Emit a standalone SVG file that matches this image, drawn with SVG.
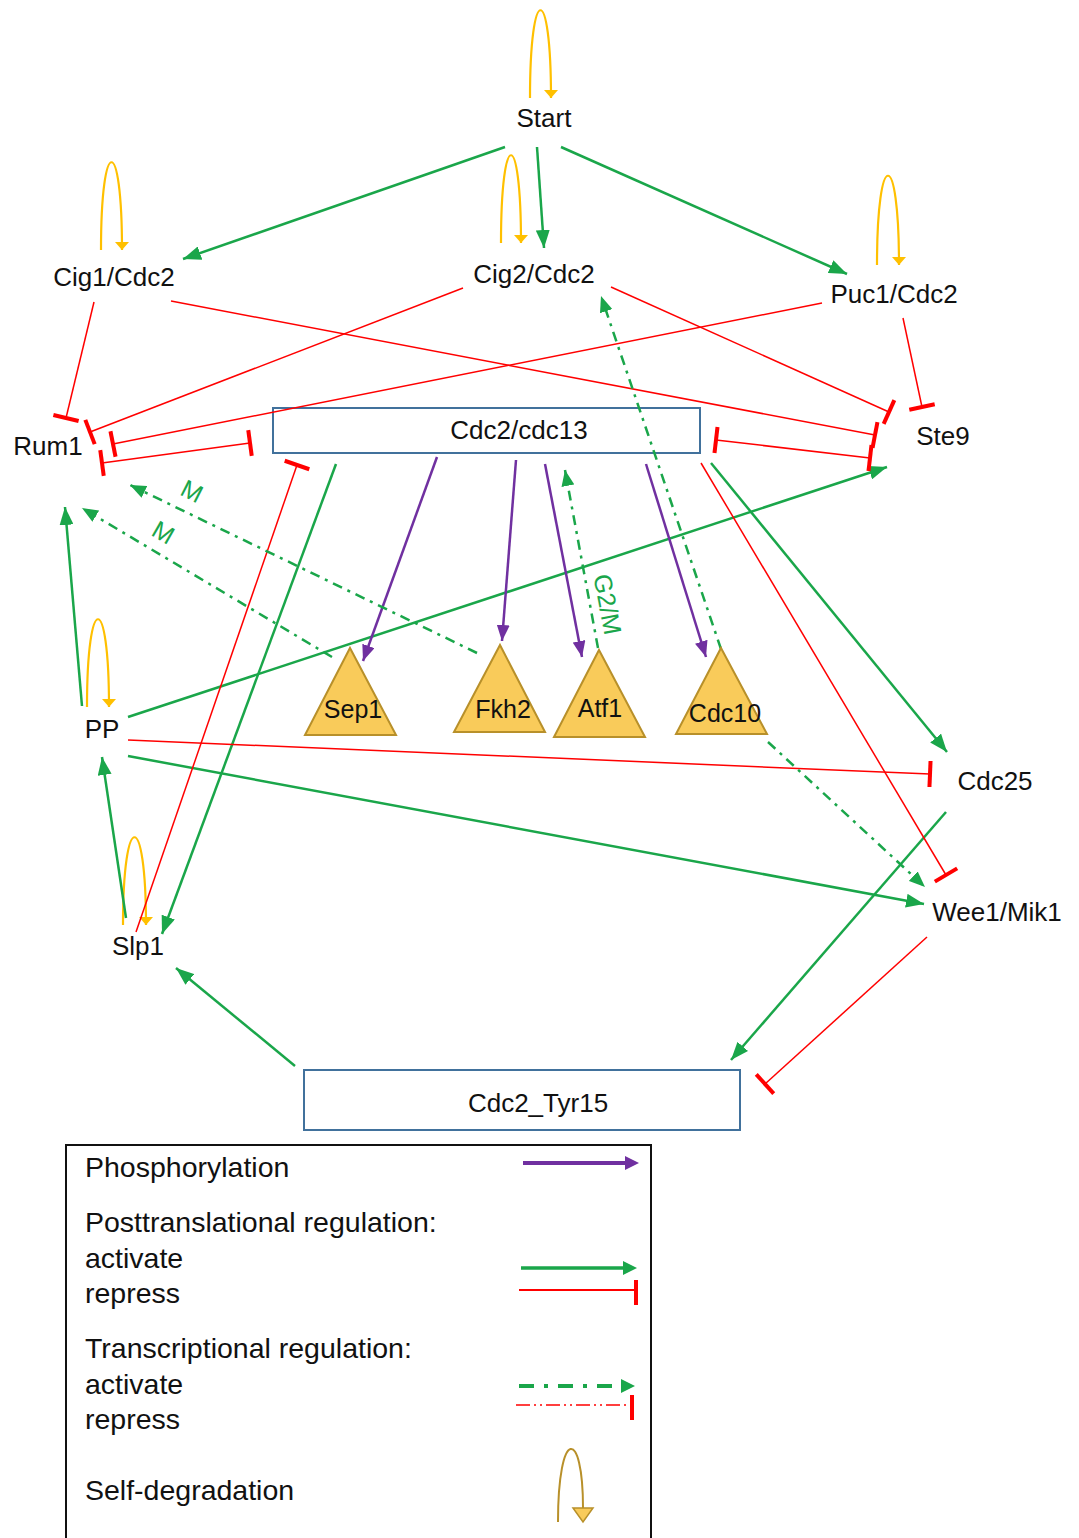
<svg xmlns="http://www.w3.org/2000/svg" width="1079" height="1538" viewBox="0 0 1079 1538">
<style>
.lbl{font-family:"Liberation Sans",Arial,sans-serif;font-size:26px;fill:#111}
.tl{font-family:"Liberation Sans",Arial,sans-serif;font-size:25px;fill:#111;text-anchor:middle}
.lg{font-family:"Liberation Sans",Arial,sans-serif;font-size:28.5px;fill:#111}
.ml{font-family:"Liberation Sans",Arial,sans-serif;font-size:25px;fill:#1AA64A;text-anchor:middle}
.g{stroke:#1AA64A;stroke-width:2.5;fill:none;marker-end:url(#aG)}
.gd{stroke:#1AA64A;stroke-width:2.5;fill:none;stroke-dasharray:10 6 3 6;marker-end:url(#aGd)}
.r{stroke:#FF0000;stroke-width:1.5;fill:none;marker-end:url(#bR)}
.r2{stroke:#FF0000;stroke-width:1.5;fill:none;marker-end:url(#bR);marker-start:url(#bR)}
.p{stroke:#7030A0;stroke-width:2.5;fill:none;marker-end:url(#aP)}
.o{stroke:#FFC000;stroke-width:2.2;fill:none;marker-end:url(#aO)}
.box{fill:none;stroke:#41719C;stroke-width:2}
.tri{fill:#F9CB5A;stroke:#B8902A;stroke-width:2}
</style>
<defs>
<marker id="aG" markerUnits="userSpaceOnUse" markerWidth="18" markerHeight="14" viewBox="0 0 18 14" refX="18" refY="7" orient="auto"><path d="M0,0 L18,7 L0,14 z" fill="#1AA64A"/></marker>
<marker id="aGd" markerUnits="userSpaceOnUse" markerWidth="16" markerHeight="13" viewBox="0 0 16 13" refX="16" refY="6.5" orient="auto"><path d="M0,0 L16,6.5 L0,13 z" fill="#1AA64A"/></marker>
<marker id="aP" markerUnits="userSpaceOnUse" markerWidth="16" markerHeight="13" viewBox="0 0 16 13" refX="16" refY="6.5" orient="auto"><path d="M0,0 L16,6.5 L0,13 z" fill="#7030A0"/></marker>
<marker id="aO" markerUnits="userSpaceOnUse" markerWidth="8" markerHeight="14" viewBox="0 0 8 14" refX="8" refY="7" orient="auto"><path d="M0,0 L8,7 L0,14 z" fill="#FFC000"/></marker>
<marker id="bR" markerUnits="userSpaceOnUse" markerWidth="6" markerHeight="30" viewBox="0 0 6 30" refX="3" refY="15" orient="auto"><rect x="1" y="2" width="4" height="26" fill="#FF0000"/></marker>
</defs>
<rect width="1079" height="1538" fill="#fff"/>

<g id="node-cdc2cdc13"><rect class="box" x="273" y="408" width="427" height="45"/><text class="lbl" x="519" y="439" text-anchor="middle">Cdc2/cdc13</text></g>
<g id="node-tyr15"><rect class="box" x="304" y="1070" width="436" height="60"/><text class="lbl" x="538" y="1112" text-anchor="middle">Cdc2_Tyr15</text></g>

<g id="connectors">
<path class="o" d="M530,98 C530,-19 551,-19 551,98"/>
<path class="o" d="M501,243 C501,126 521,126 521,243"/>
<path class="o" d="M101,250 C101,133 122,133 122,250"/>
<path class="o" d="M877,265 C877,146 899,146 899,265"/>
<path class="o" d="M87,707 C87,590 109,590 109,707"/>
<path class="o" d="M123,925 C123,808 146,808 146,925"/>
<line class="g" x1="505" y1="147" x2="183" y2="259"/>
<line class="g" x1="537" y1="147" x2="544" y2="248"/>
<line class="g" x1="561" y1="147" x2="847" y2="274"/>
<line class="g" x1="82" y1="706" x2="65" y2="507"/>
<line class="g" x1="128" y1="717" x2="887" y2="467"/>
<line class="g" x1="128" y1="756" x2="924" y2="904"/>
<line class="g" x1="126" y1="918" x2="102" y2="757"/>
<line class="g" x1="336" y1="464" x2="162" y2="934"/>
<line class="g" x1="711" y1="463" x2="947" y2="752"/>
<line class="g" x1="946" y1="812" x2="731" y2="1060"/>
<line class="g" x1="295" y1="1066" x2="176" y2="968"/>
<line class="r" x1="94" y1="302" x2="66" y2="418"/>
<line class="r" x1="463" y1="288" x2="90" y2="432"/>
<line class="r" x1="822" y1="303" x2="113" y2="444"/>
<line class="r2" x1="102" y1="463" x2="250" y2="443"/>
<line class="r" x1="171" y1="301" x2="875" y2="435"/>
<line class="r" x1="611" y1="287" x2="889" y2="412"/>
<line class="r" x1="903" y1="318" x2="922" y2="407"/>
<line class="r2" x1="716" y1="440" x2="870" y2="458"/>
<line class="r" x1="136" y1="932" x2="297" y2="465"/>
<line class="r" x1="128" y1="740" x2="930" y2="774"/>
<line class="r" x1="701" y1="463" x2="946" y2="875"/>
<line class="r" x1="927" y1="937" x2="765" y2="1084"/>
<line class="p" x1="437" y1="457" x2="363" y2="661"/>
<line class="p" x1="516" y1="460" x2="502" y2="641"/>
<line class="p" x1="545" y1="464" x2="582" y2="657"/>
<line class="p" x1="646" y1="464" x2="706" y2="657"/>
<line class="gd" x1="332" y1="657" x2="82" y2="508"/>
<line class="gd" x1="477" y1="653" x2="130" y2="485"/>
<line class="gd" x1="598" y1="648" x2="565" y2="470"/>
<line class="gd" x1="721" y1="649" x2="601" y2="296"/>
<line class="gd" x1="768" y1="742" x2="925" y2="887"/>
<text class="ml" transform="translate(188,499) rotate(27)">M</text>
<text class="ml" transform="translate(159,540) rotate(30)">M</text>
<text class="ml" transform="translate(599,606) rotate(79)">G2/M</text>
</g>

<g id="node-start"><text class="lbl" x="544" y="127" text-anchor="middle">Start</text></g>
<g id="node-cig1"><text class="lbl" x="114" y="286" text-anchor="middle">Cig1/Cdc2</text></g>
<g id="node-cig2"><text class="lbl" x="534" y="283" text-anchor="middle">Cig2/Cdc2</text></g>
<g id="node-puc1"><text class="lbl" x="894" y="303" text-anchor="middle">Puc1/Cdc2</text></g>
<g id="node-rum1"><text class="lbl" x="48" y="455" text-anchor="middle">Rum1</text></g>
<g id="node-ste9"><text class="lbl" x="943" y="445" text-anchor="middle">Ste9</text></g>
<g id="node-pp"><text class="lbl" x="102" y="738" text-anchor="middle">PP</text></g>
<g id="node-cdc25"><text class="lbl" x="995" y="790" text-anchor="middle">Cdc25</text></g>
<g id="node-wee1"><text class="lbl" x="997" y="921" text-anchor="middle">Wee1/Mik1</text></g>
<g id="node-slp1"><text class="lbl" x="138" y="955" text-anchor="middle">Slp1</text></g>
<g id="node-sep1"><polygon class="tri" points="350,648 396,735 305,735"/><text class="tl" x="353" y="718">Sep1</text></g>
<g id="node-fkh2"><polygon class="tri" points="500,645 545,732 454,732"/><text class="tl" x="503" y="718">Fkh2</text></g>
<g id="node-atf1"><polygon class="tri" points="599,650 645,737 554,737"/><text class="tl" x="600" y="717">Atf1</text></g>
<g id="node-cdc10"><polygon class="tri" points="721,648 767,734 676,734"/><text class="tl" x="725" y="722">Cdc10</text></g>

<g id="legend">
<rect x="66" y="1145" width="585" height="420" fill="none" stroke="#111" stroke-width="2"/>
<text class="lg" x="85" y="1177">Phosphorylation</text>
<text class="lg" x="85" y="1232">Posttranslational regulation:</text>
<text class="lg" x="85" y="1268">activate</text>
<text class="lg" x="85" y="1303">repress</text>
<text class="lg" x="85" y="1358">Transcriptional regulation:</text>
<text class="lg" x="85" y="1394">activate</text>
<text class="lg" x="85" y="1429">repress</text>
<text class="lg" x="85" y="1500">Self-degradation</text>
<line x1="523" y1="1163" x2="626" y2="1163" stroke="#7030A0" stroke-width="4"/>
<polygon points="625,1156 639,1163 625,1170" fill="#7030A0"/>
<line x1="521" y1="1268" x2="624" y2="1268" stroke="#1AA64A" stroke-width="3.5"/>
<polygon points="623,1261 637,1268 623,1275" fill="#1AA64A"/>
<line x1="519" y1="1290" x2="636" y2="1290" stroke="#FF0000" stroke-width="2"/>
<rect x="634" y="1280" width="4" height="25" fill="#FF0000"/>
<line x1="519" y1="1386" x2="623" y2="1386" stroke="#1AA64A" stroke-width="4" stroke-dasharray="15 10 4 10"/>
<polygon points="621,1379 635,1386 621,1393" fill="#1AA64A"/>
<line x1="516" y1="1405" x2="630" y2="1405" stroke="#FF0000" stroke-width="1.5" stroke-dasharray="14 4 2 4 2 4"/>
<rect x="630" y="1395" width="4" height="25" fill="#FF0000"/>
<path d="M558,1522 C558,1427 583,1427 583,1508" fill="none" stroke="#B8902A" stroke-width="2"/>
<polygon points="573,1508 593,1508 583,1522" fill="#F9CB5A" stroke="#B8902A" stroke-width="1.5"/>
</g>
</svg>
